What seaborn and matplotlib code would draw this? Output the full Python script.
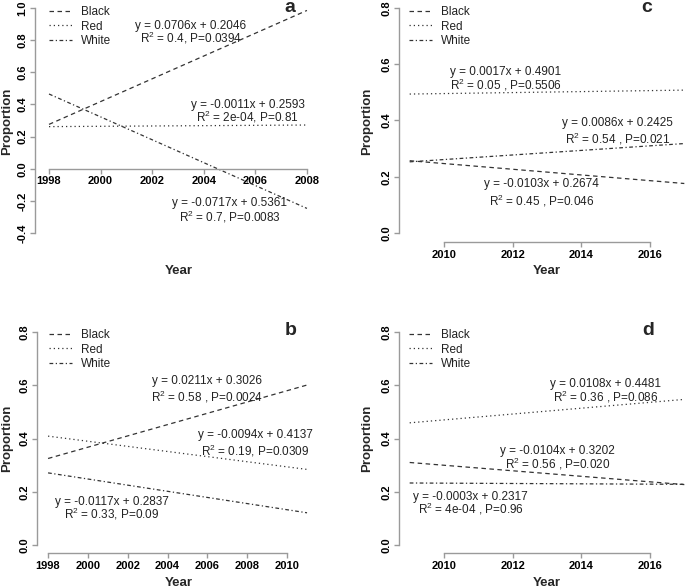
import matplotlib
matplotlib.use('Agg')
import matplotlib.pyplot as plt
import numpy as np
import pandas as pd
import seaborn as sns

groups = ['Black', 'Red', 'White']

# fitted-line end points
years_a = [1998, 2008]
black_a = [0.276, 0.985]
red_a = [0.262, 0.272]
white_a = [0.465, -0.247]

years_b = [1998, 2011]
black_b = [0.325, 0.601]
red_b = [0.409, 0.284]
white_b = [0.271, 0.121]

years_c = [2009, 2017]
black_c = [0.257, 0.176]
red_c = [0.494, 0.508]
white_c = [0.253, 0.318]

years_d = [2009, 2017]
black_d = [0.310, 0.227]
red_d = [0.459, 0.547]
white_d = [0.233, 0.228]

# equations and fit statistics (Black, Red, White)
eq_a = ['y = 0.0706x + 0.2046', 'y = -0.0011x + 0.2593', 'y = -0.0717x + 0.5361']
fit_a = ['0.4, P=0.0394', '2e-04, P=0.81', '0.7, P=0.0083']
eq_b = ['y = 0.0211x + 0.3026', 'y = -0.0094x + 0.4137', 'y = -0.0117x + 0.2837']
fit_b = ['0.58 , P=0.0024', '0.19, P=0.0309', '0.33, P=0.09']
eq_c = ['y = -0.0103x + 0.2674', 'y = 0.0017x + 0.4901', 'y = 0.0086x + 0.2425']
fit_c = ['0.45 , P=0.046', '0.05 , P=0.5506', '0.54 , P=0.021']
eq_d = ['y = -0.0104x + 0.3202', 'y = 0.0108x + 0.4481', 'y = -0.0003x + 0.2317']
fit_d = ['0.56 , P=0.020', '0.36 , P=0.086', '4e-04 , P=0.96']

W, H = 685, 588
sns.set_style('white')
plt.rcParams['font.family'] = ['Liberation Sans', 'DejaVu Sans']
plt.rcParams['axes.unicode_minus'] = False

AXIS_GREY = '#9a9a9a'
LINE_COL = '#333333'
dash_map = {'Black': (3.6, 2.8), 'Red': (1.0, 2.4), 'White': (3.0, 2.0, 1.0, 2.0)}


def make_df(years, black, red, white):
    rows = []
    for g, vals in zip(groups, [black, red, white]):
        for yr, v in zip(years, vals):
            rows.append({'Year': yr, 'Proportion': v, 'Group': g})
    return pd.DataFrame(rows)


# box = pixel edges (left, right, top, bottom) of the plot region
panels = [
    dict(letter='a', df=make_df(years_a, black_a, red_a, white_a), eq=eq_a, fit=fit_a,
         box=(35, 317, 0, 242), xlim=(1997.457, 2008.39), ylim=(-0.456, 1.05),
         xticks=np.arange(1998, 2009, 2), yticks=np.arange(-0.4, 1.01, 0.2),
         xaxis_at=0.0, xlab_x=179,
         txt=[(2003.5, 0.888, 0.813), (2005.7, 0.396, 0.320), (2005.0, -0.213, -0.302)],
         letter_xy=(2007.34, 1.006)),
    dict(letter='b', df=make_df(years_b, black_b, red_b, white_b), eq=eq_b, fit=fit_b,
         box=(37, 317, 323, 553), xlim=(1997.445, 2011.5), ylim=(-0.030, 0.834),
         xticks=np.arange(1998, 2011, 2), yticks=np.arange(0, 0.81, 0.2),
         xaxis_at=None, xlab_x=179,
         txt=[(2006.0, 0.617, 0.557), (2008.4, 0.413, 0.354), (2001.2, 0.162, 0.116)],
         letter_xy=(2010.17, 0.805)),
    dict(letter='c', df=make_df(years_c, black_c, red_c, white_c), eq=eq_c, fit=fit_c,
         box=(399, 685, 0, 242), xlim=(2008.689, 2017.02), ylim=(-0.032, 0.8284),
         xticks=np.arange(2010, 2017, 2), yticks=np.arange(0, 0.81, 0.2),
         xaxis_at=None, xlab_x=547,
         txt=[(2012.85, 0.174, 0.115), (2011.8, 0.572, 0.528), (2015.05, 0.391, 0.335)],
         letter_xy=(2015.91, 0.803)),
    dict(letter='d', df=make_df(years_d, black_d, red_d, white_d), eq=eq_d, fit=fit_d,
         box=(399, 685, 323, 553), xlim=(2008.689, 2017.02), ylim=(-0.030, 0.834),
         xticks=np.arange(2010, 2017, 2), yticks=np.arange(0, 0.81, 0.2),
         xaxis_at=None, xlab_x=547,
         txt=[(2013.3, 0.353, 0.304), (2014.7, 0.603, 0.555), (2010.78, 0.181, 0.135)],
         letter_xy=(2015.95, 0.805)),
]

fig = plt.figure(figsize=(W / 100, H / 100), dpi=100)

for p in panels:
    x0, x1, yt, yb = p['box']
    pw, ph = x1 - x0, yb - yt
    ax = fig.add_axes([x0 / W, 1 - yb / H, pw / W, ph / H])
    ax.patch.set_alpha(0)
    sns.lineplot(data=p['df'], x='Year', y='Proportion', style='Group',
                 style_order=groups, dashes=dash_map, color=LINE_COL,
                 linewidth=0.9, ax=ax)
    ax.set_xlim(p['xlim'])
    ax.set_ylim(p['ylim'])
    ax.set_xticks(p['xticks'])
    ax.set_yticks(p['yticks'])
    ax.set_xticklabels([str(int(v)) for v in p['xticks']])
    ax.set_yticklabels(['%.1f' % v for v in p['yticks']], rotation=90, va='center')

    for s in ['top', 'right']:
        ax.spines[s].set_visible(False)
    for s in ['left', 'bottom']:
        ax.spines[s].set_color(AXIS_GREY)
        ax.spines[s].set_linewidth(1.0)
    ax.spines['left'].set_bounds(p['yticks'][0], p['yticks'][-1])
    ax.spines['bottom'].set_bounds(p['xticks'][0], p['xticks'][-1])
    if p['xaxis_at'] is not None:
        ax.spines['bottom'].set_position(('data', p['xaxis_at']))

    ax.tick_params(direction='out', length=3.5, width=1.0, color=AXIS_GREY,
                   labelsize=8, labelcolor='black', pad=2, bottom=True, left=True)
    for lab in ax.get_xticklabels() + ax.get_yticklabels():
        lab.set_fontweight('bold')

    ax.set_xlabel('Year', fontsize=9.5, fontweight='bold')
    ax.set_ylabel('Proportion', fontsize=9.5, fontweight='bold')
    ax.xaxis.label.set_va('center')
    ax.yaxis.label.set_va('center')
    ax.xaxis.set_label_coords((p['xlab_x'] - x0) / pw, -29.5 / ph)
    ylab_x = 7 if x0 < 300 else 367
    ax.yaxis.set_label_coords((ylab_x - x0) / pw, 0.5)

    # legend, top-left, no frame
    lx = 49 if x0 < 300 else 409
    ly = yt + 6
    sns.move_legend(ax, 'upper left',
                    bbox_to_anchor=((lx - x0) / pw, 1 - (ly - yt) / ph),
                    title=None, frameon=False, fontsize=8.5, handlelength=1.95,
                    handletextpad=0.75, labelspacing=0.22, borderpad=0,
                    borderaxespad=0)
    leg = ax.get_legend()
    for h in leg.get_lines():
        h.set_color(LINE_COL)
        h.set_linewidth(0.9)
    for t in leg.get_texts():
        t.set_color('#222222')

    # equation annotations
    for (tx, ty_eq, ty_fit), e, f in zip(p['txt'], p['eq'], p['fit']):
        ax.text(tx, ty_eq, e, fontsize=8.5, ha='center', va='center', color='#222222')
        ax.text(tx, ty_fit, r'$\mathregular{R^2}$ = ' + f, fontsize=8.5,
                ha='center', va='center', color='#222222')

    ax.text(p['letter_xy'][0], p['letter_xy'][1], p['letter'], fontsize=14,
            fontweight='bold', ha='center', va='center')

fig.savefig('out.png', dpi=100)
